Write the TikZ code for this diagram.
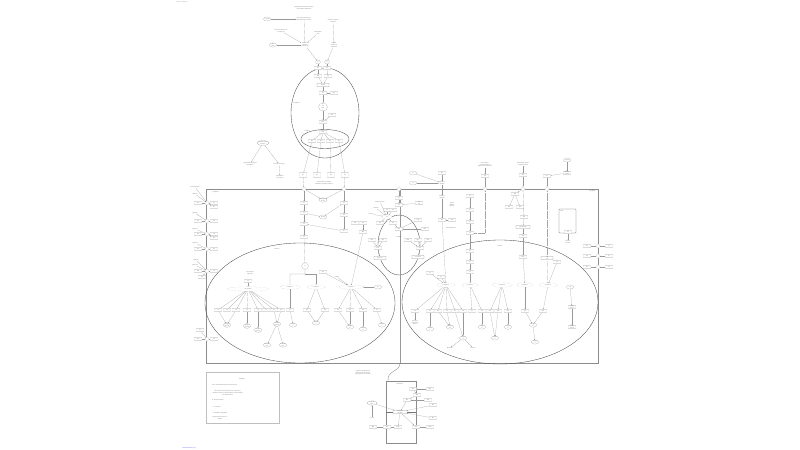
\documentclass[tikz,border=0pt]{standalone}
\usepackage{fontspec}
\setmainfont{Liberation Sans}
\usetikzlibrary{shapes.geometric,arrows.meta,positioning,calc}
\tikzset{
  gene/.style={draw=black!40, line width=0.2pt, rounded corners=0.5pt, minimum width=0.36cm, minimum height=0.18cm, fill=white},
  cpd/.style={draw=black!40, line width=0.2pt, ellipse, minimum width=0.36cm, minimum height=0.2cm, fill=white},
  hub/.style={draw=black!40, line width=0.2pt, densely dotted, ellipse, minimum width=1cm, minimum height=0.22cm, fill=white},
  txt/.style={text=black!60},
  port/.style={draw=black!45, line width=0.2pt, diamond, minimum size=0.24cm, fill=white},
  conn/.style={draw=black!40, line width=0.2pt, -{Stealth[length=1.1pt,width=0.9pt]}},
  line/.style={draw=black!40, line width=0.2pt},
  dline/.style={draw=black!35, line width=0.3pt, dash pattern=on 0.8pt off 0.8pt},
  organelle/.style={draw=black!70, line width=0.5pt},
  compart/.style={draw=black!45, line width=1.4pt},
}
\begin{document}
\begin{tikzpicture}[x=0.05cm,y=-0.05cm,font=\fontsize{1.9}{2.2}\selectfont,
  every node/.append style={inner sep=0.4pt, align=center, text=black!60}]
\useasboundingbox (0,0) rectangle (800,450);
\fill[white] (0,0) rectangle (800,450);

% compartments
\draw[compart] (206,189) rectangle (598,363);
\draw[organelle] (325,113) ellipse [x radius=34, y radius=45];
\draw[organelle] (325,139) ellipse [x radius=24, y radius=9.5];
\draw[organelle] (300,303) ellipse [x radius=95, y radius=60];
\draw[organelle] (500,302) ellipse [x radius=98, y radius=62];
\draw[organelle] (399,245) ellipse [x radius=21, y radius=30];
\draw[draw=black!40, line width=0.9pt] (400,189) -- (400,363);
\draw[compart] (386,381) rectangle (416,443);
\draw[draw=black!25, line width=0.4pt] (206,372) rectangle (279,423);
\draw[draw=black!45, line width=0.5pt] (400,363) .. controls (400,372) and (387,370) .. (388,381);

\node[txt, anchor=west, text=black!45] (fig) at (176,2) {Figure 1: Pathway};
\node[txt, anchor=west, text=blue!70] (link) at (182,448) {www.wikipathways.org};
\node[txt, anchor=west] (lab_cyto) at (293,103) {Cytoplasm};
\node[txt, anchor=west] (lab_cx) at (304,131) {Complex};
\node[txt, anchor=west] (lab_cyt) at (212,192) {Cytoplasm};
\node[txt, anchor=east] (lab_cyt2) at (596,191) {Cytoplasm};
\node[txt] (lab_nuc1) at (277,249) {Nucleus};
\node[txt] (lab_nuc2) at (500,246) {Nucleus};

% top cluster
\node[txt] (t_head) at (304,8) {Signal ligand binding to receptor\\ at the plasma membrane};
\node[cpd] (t_lig) at (267,19) {Ligand};
\node[txt] (t_rec) at (304,19) {Receptor activation by\\ ligand binding at surface};
\node[txt] (t_cof) at (333,21) {Cofactor complex\\ formation};
\node[txt] (t_kin) at (281,31) {Kinase recruitment at\\ receptor (P)};
\node[txt] (t_dim) at (318,33) {Dimerization\\ step};
\node[cpd] (t_atp) at (273,45) {ATP\\ ADP};
\node[txt] (t_cpx) at (305,45) {Activated\\ receptor\\ complex (P)};
\node[txt] (t_adp) at (334,45) {Adaptor\\ complex at\\ membrane};
\path[conn] (t_lig) edge (t_rec)
            (t_rec) edge (t_cpx)
            (t_kin) edge (t_cpx)
            (t_dim) edge (t_cpx)
            (t_cof) edge (t_adp);
\draw[line] (t_atp) -- (t_cpx);

% upper ellipse
\node[cpd, minimum width=0.24cm] (c_1) at (318,62) {A};
\node[cpd, minimum width=0.24cm] (c_2) at (327,62) {B};
\node[gene] (c_3) at (318,68) {P1};
\node[gene] (c_4) at (327,68) {P2};
\node[gene] (c_5) at (318,76) {P3};
\node[gene] (c_6) at (328,76) {P4};
\node[gene, minimum width=0.6cm] (c_7) at (323,85) {P5 P6};
\node[gene] (c_8) at (323,93) {P7};
\node[gene] (c_9) at (334,93) {P8};
\node[cpd, minimum width=0.45cm, minimum height=0.4cm] (c_10) at (323,107) {P9\\ P10};
\node[gene] (c_11) at (332,115) {P11};
\node[gene] (c_12) at (323,122) {P12};
\node[gene] (c_13) at (323,132) {P13};
\path[conn] (t_cpx) edge (c_1) (t_adp) edge (c_2)
            (c_1) edge (c_3) (c_2) edge (c_4)
            (c_3) edge (c_5) (c_4) edge (c_6)
            (c_5) edge (c_7) (c_6) edge (c_7)
            (c_7) edge (c_8) (c_9) edge (c_8)
            (c_8) edge (c_10) (c_10) edge (c_12)
            (c_11) edge (c_12) (c_12) edge (c_13);
\foreach \x/\n/\bx in {312/1/303,321/2/317,330/3/331,339/4/345} {
  \node[gene] (i_\n) at (\x,141) {Q\n};
  \node[gene, minimum height=0.25cm] (b_\n) at (\bx,175) {R\n};
  \draw[conn] (c_13) -- (i_\n);
  \draw[conn] (i_\n) -- (b_\n);
}
\node[txt] (t_mem) at (324,183) {Translocation to plasma\\ membrane signaling complex};
\node[port] (p_1) at (304,189) {};
\node[port] (p_2) at (344,189) {};
\path[conn] (b_1) edge (p_1) (b_4) edge (p_2);

% left cluster
\node[cpd, minimum width=0.5cm] (l_1) at (263,143) {Growth factor\\ receptor};
\node[txt] (l_2) at (250,164) {Ligand-bound receptor\\ internalized};
\node[txt] (l_3) at (279,164) {Receptor recycling};
\node[txt] (l_4) at (280,177) {Degradation\\ in lysosome};
\path[conn] (l_1) edge (l_2) (l_1) edge (l_3) (l_3) edge (l_4);

% cytoplasm left column
\node[gene] (m_1) at (304,203) {S1};
\node[gene] (m_2) at (304,213) {S2};
\node[gene] (m_3) at (304,224) {S3};
\node[gene] (m_4) at (304,237) {S4};
\node[gene] (m_5) at (344,203) {S5};
\node[gene] (m_6) at (344,215) {S6};
\node[gene] (m_7) at (344,231) {S7};
\node[cpd] (m_8) at (323,200) {Complex\\ S1:S5};
\node[cpd] (m_9) at (323,217) {S2:S6};
\node[gene] (m_10) at (355,223) {S8};
\node[gene] (m_11) at (363,223) {S9};
\node[gene] (m_12) at (363,232) {S10};
\path[conn] (p_1) edge (m_1) (m_1) edge (m_2) (m_2) edge (m_3) (m_3) edge (m_4)
            (p_2) edge (m_5) (m_5) edge (m_6) (m_6) edge (m_7)
            (p_1) edge (m_8) (p_2) edge (m_8)
            (m_2) edge (m_9) (m_5) edge (m_9)
            (m_7) edge (m_3) (m_11) edge (m_12);

% left nucleus
\node[draw=black!40, line width=0.2pt, regular polygon, regular polygon sides=6, minimum size=0.35cm, fill=white] (n_0) at (305,266) {N};
\draw[conn] (m_4) -- (n_0);
\node[txt] (n_lab) at (250,273) {Transcription\\ regulation};
\node[gene] (n_g0) at (248,281) {TF};
\node[hub, minimum width=2.1cm] (n_h0) at (248,289) {TF complex};
\draw[conn] (n_g0) -- (n_h0);
\foreach \x [count=\i] in {218,227,236,247,258,266,274,281} {
  \node[gene] (n_a\i) at (\x,310) {T\i};
  \draw[conn] (n_h0) -- (n_a\i);
}
\node[cpd] (n_b1) at (227,325) {Target\\ gene A};
\node[cpd] (n_b2) at (247,326) {Target\\ gene B};
\node[cpd] (n_b3) at (258,330) {Target\\ gene C};
\node[cpd] (n_b4) at (277,324) {Target\\ gene D};
\node[cpd] (n_b5) at (267,345) {Product\\ one};
\node[cpd] (n_b6) at (283,345) {Product\\ two};
\path[conn] (n_a1) edge (n_b1) (n_a3) edge (n_b1) (n_a4) edge (n_b2) (n_a5) edge (n_b3)
            (n_a7) edge (n_b4) (n_a8) edge (n_b4) (n_b4) edge (n_b5) (n_b4) edge (n_b6);
\node[hub, minimum width=1cm] (n_h1) at (290,287) {Complex 1};
\node[hub, minimum width=0.9cm] (n_h2) at (316,287) {Complex 2};
\node[hub, minimum width=1.2cm] (n_h3) at (351,287) {Complex 3};
\node[cpd] (n_c1) at (378,287) {C1};
\node[gene] (n_g1) at (323,272) {N1};
\node[txt] (n_t1) at (337,277) {cofactor};
\draw[line] (n_0) -- (305,274) -| (n_h1);
\draw[conn] (305,274) -| (n_h2);
\path[conn] (n_g1) edge (n_h3) (n_t1) edge (n_h3) (n_c1) edge (n_h3) (m_12) edge (n_h3);
\foreach \x [count=\i] in {290,307,325,338,350,363,377} {
  \node[gene] (n_r\i) at (\x,310) {U\i};
}
\path[conn] (n_h1) edge (n_r1) (n_h2) edge (n_r2) (n_h2) edge (n_r3)
            (n_h3) edge (n_r4) (n_h3) edge (n_r5) (n_h3) edge (n_r6) (n_h3) edge (n_r7);
\node[cpd] (n_d1) at (293,325) {Target\\ E};
\node[cpd] (n_d2) at (316,323) {Target\\ F};
\node[cpd] (n_d3) at (350,327) {Target\\ G};
\node[cpd] (n_d4) at (363,329) {Target\\ H};
\node[cpd] (n_d5) at (382,325) {Target\\ I};
\path[conn] (n_r1) edge (n_d1) (n_r2) edge (n_d2) (n_r3) edge (n_d2)
            (n_r4) edge (n_d3) (n_r5) edge (n_d3) (n_r6) edge (n_d4) (n_r7) edge (n_d5);

% middle region and small ellipse
\node[port] (k_p) at (399,189) {};
\node[gene] (k_1) at (399,198) {K1};
\node[gene] (k_2) at (399,205) {K2};
\node[gene] (k_3) at (419,203) {K3\\ K4};
\node[txt] (k_4) at (380,202) {Adaptor protein};
\node[txt] (k_5) at (376,208) {Scaffold};
\node[txt] (k_6) at (371,214) {Kinase};
\node[gene] (k_7) at (387,210) {K5};
\node[gene] (k_8) at (393,210) {K6};
\node[hub, minimum width=0.5cm] (k_9) at (387,217) {K7};
\node[gene] (k_10) at (380,223) {K8};
\node[gene] (k_11) at (393,223) {K9};
\node[gene] (k_12) at (399,229) {K10};
\node[txt] (k_13) at (399,237) {Complex};
\node[gene] (k_14) at (418,220) {K11};
\node[gene] (k_15) at (425,229) {K12};
\node[gene] (k_16) at (372,240) {K13};
\node[gene] (k_17) at (383,240) {K14};
\node[gene] (k_18) at (378,248) {K15};
\node[gene, minimum width=0.6cm] (k_19) at (380,258) {K16 K17};
\node[gene] (k_20) at (408,240) {K18};
\node[gene] (k_21) at (418,240) {K19};
\node[gene] (k_22) at (428,240) {K20};
\node[gene] (k_23) at (420,248) {K21};
\node[gene, minimum width=0.6cm] (k_24) at (418,257) {K22 K23};
\path[conn] (k_p) edge (k_1) (k_1) edge (k_2) (k_3) edge (k_2)
            (k_4) edge (k_9) (k_5) edge (k_9) (k_6) edge (k_9) (k_7) edge (k_9) (k_8) edge (k_9)
            (k_9) edge (k_10) (k_9) edge (k_11) (k_11) edge (k_12) (k_14) edge (k_12) (k_15) edge (k_12)
            (k_16) edge (k_18) (k_17) edge (k_18) (k_18) edge (k_19)
            (k_20) edge (k_23) (k_21) edge (k_23) (k_22) edge (k_23) (k_23) edge (k_24);

% right upper
\node[cpd] (r_a) at (413,173) {L1};
\node[cpd] (r_b) at (413,183) {L2};
\node[gene] (r_c) at (442,173) {R1};
\node[txt] (r_d) at (442,183) {Receptor\\ complex};
\path[conn] (r_a) edge (r_d) (r_b) edge (r_d) (r_c) edge (r_d);
\node[txt] (r_e) at (442,197) {Activated\\ receptor};
\node[txt] (r_f) at (452,205) {Signal\\ adaptor\\ binding};
\node[gene] (r_g) at (442,220) {R2};
\node[gene] (r_h) at (452,220) {R3};
\node[txt] (r_i) at (451,228) {Phosphorylation};
\path[conn] (r_d) edge (r_e) (r_e) edge (r_g) (r_h) edge (r_g);
\node[txt] (r_8) at (485,165) {Cell surface\\ receptor binds its\\ ligand in the membrane};
\node[gene] (r_9) at (485,176) {R4};
\node[port] (r_10) at (485,189) {};
\draw[conn] (r_8) -- (r_9);
\draw[line] (r_9) -- (r_10);
\foreach \y [count=\i] in {196,210,222,233,251,262,272} {
  \node[gene] (s_\i) at (470,\y) {V\i};
}
\path[conn] (s_1) edge (s_2) (s_2) edge (s_3) (s_3) edge (s_4) (s_4) edge (s_5) (s_5) edge (s_6) (s_6) edge (s_7);
\draw[dline] (r_10) |- (s_4);
\node[txt] (u_1) at (523,164) {Extracellular matrix\\ component binds};
\node[gene] (u_2) at (523,175) {W1};
\node[port] (u_3) at (523,189) {};
\node[gene] (u_4) at (515,194) {W2};
\node[gene] (u_5) at (509,207) {W3};
\node[gene] (u_6) at (520,207) {W4};
\node[gene] (u_7) at (524,217) {W5};
\node[gene, minimum width=0.7cm] (u_8) at (523,227) {W6 W7 W8};
\node[gene] (u_9) at (523,236) {W9};
\node[gene] (u_10) at (523,257) {W10};
\path[conn] (u_1) edge (u_2) (u_2) edge (u_3) (u_3) edge (u_4) (u_4) edge (u_5) (u_4) edge (u_6)
            (u_3) edge (u_7) (u_7) edge (u_8) (u_8) edge (u_9) (u_9) edge (u_10);
\node[cpd] (v_1) at (567,160) {Ligand};
\node[gene] (v_2) at (567,173) {Binding\\ protein};
\node[gene] (v_3) at (547,176) {X1};
\node[port] (v_4) at (547,189) {};
\path[conn] (v_1) edge (v_2) (v_2) edge (v_3) (v_3) edge (v_4);
\draw[draw=black!60, line width=0.5pt, rounded corners=1pt] (559,209) rectangle (576,233);
\node[txt, anchor=north west] (v_lab) at (560,210) {NUC};
\node[gene] (v_6) at (568,232) {X2};
\node[txt] (v_7) at (568,242) {Nuclear\\ receptor};
\draw[conn] (v_6) -- (v_7);

% right nucleus
\node[gene, minimum width=0.6cm] (w_c1) at (547,258) {X3\\ X4};
\node[gene] (w_c2) at (557,262) {X5};
\draw[dline] (v_4) -- (w_c1);
\node[gene] (w_g1) at (430,273) {Y1};
\node[gene] (w_g3) at (441,277) {Y2};
\node[hub, minimum width=0.9cm] (w_h1) at (446,285) {Complex 4};
\node[hub, minimum width=0.8cm] (w_h2) at (470,285) {Complex 5};
\node[hub, minimum width=1cm] (w_h3) at (502,285) {Complex 6};
\node[hub, minimum width=0.8cm] (w_h4) at (525,285) {Complex 7};
\node[hub, minimum width=0.9cm] (w_h5) at (548,285) {Complex 8};
\node[cpd] (w_c3) at (570,287) {Y3};
\node[gene] (w_c4) at (572,307) {Target\\ gene J};
\node[gene] (w_c5) at (572,327) {Target\\ gene K};
\path[conn] (w_g1) edge (w_h1) (w_g3) edge (w_h1) (r_g) edge (w_h1) (s_7) edge (w_h2)
            (u_10) edge (w_h4) (w_c1) edge (w_h5) (w_c2) edge (w_h5) (w_c3) edge (w_c4) (w_c4) edge (w_c5);
\foreach \x [count=\i] in {415,430,438,447,455,463,472,482,490,498,508,525,543} {
  \node[gene] (w_r\i) at (\x,311) {Z\i};
}
\path[conn] (w_h1) edge (w_r1) (w_h1) edge (w_r2) (w_h1) edge (w_r3) (w_h1) edge (w_r4)
            (w_h1) edge (w_r5) (w_h1) edge (w_r6) (w_h2) edge (w_r7) (w_h2) edge (w_r8)
            (w_h3) edge (w_r9) (w_h3) edge (w_r10) (w_h3) edge (w_r11) (w_h4) edge (w_r12) (w_h5) edge (w_r13);
\node[txt] (w_d1) at (415,323) {Cell cycle\\ progression\\ genes};
\node[cpd] (w_d2) at (430,329) {Target\\ L};
\node[cpd] (w_d3) at (450,327) {Target\\ M};
\node[cpd] (w_d4) at (463,338) {Target\\ N};
\node[txt] (w_d5) at (450,348) {Apoptosis};
\node[txt] (w_d6) at (473,348) {Survival};
\node[cpd] (w_d7) at (482,327) {Target\\ O};
\node[cpd] (w_d8) at (495,338) {Target\\ P};
\node[cpd] (w_d9) at (508,327) {Target\\ Q};
\node[cpd] (w_d10) at (533,325) {Target\\ R};
\node[cpd] (w_d11) at (535,342) {Target\\ S};
\path[conn] (w_r1) edge (w_d1) (w_r2) edge (w_d2) (w_r3) edge (w_d3) (w_r4) edge (w_d3)
            (w_r5) edge (w_d4) (w_r6) edge (w_d4) (w_d4) edge (w_d5) (w_d4) edge (w_d6)
            (w_r8) edge (w_d7) (w_r9) edge (w_d8) (w_r10) edge (w_d8) (w_r11) edge (w_d9)
            (w_r12) edge (w_d10) (w_r13) edge (w_d10) (w_d10) edge (w_d11);

% left border
\foreach \y/\n in {203/1,221/2,234/3,249/4,271/5,339/6} {
  \node[port] (e_p\n) at (207,\y) {};
  \node[gene] (e_a\n) at (198,\y) {E\n};
  \node[gene] (e_b\n) at (214,\y) {F\n};
  \draw[line] (e_a\n) -- (e_p\n) -- (e_b\n);
}
\node[txt] (e_t1) at (195,187) {Secreted factor};
\node[txt] (e_t2) at (195,194) {Ligand A};
\node[txt] (e_t3) at (195,213) {Ligand B};
\node[txt] (e_t4) at (195,229) {Ligand C};
\node[txt] (e_t5) at (195,243) {Ligand D};
\node[txt] (e_t6) at (196,260) {Ligand E};
\node[txt] (e_t7) at (195,265) {Hormone};
\node[gene] (e_t8) at (200,330) {F7};
\node[gene] (e_c1) at (214,207) {G1};
\node[gene] (e_c2) at (214,238) {G2};
\node[gene] (e_c3) at (202,277) {G3};
\path[conn] (e_t1) edge (e_p1) (e_t2) edge (e_p1) (e_t3) edge (e_p2) (e_t4) edge (e_p3)
            (e_t5) edge (e_p4) (e_t6) edge (e_p5) (e_t7) edge (e_p5) (e_t8) edge (e_p6)
            (e_p1) edge (e_c1) (e_p3) edge (e_c2) (e_p5) edge (e_c3);

% right border
\foreach \y/\n in {246/1,256/2,267/3} {
  \node[port] (f_p\n) at (598,\y) {};
  \node[gene] (f_a\n) at (587,\y) {H\n};
  \node[gene] (f_b\n) at (609,\y) {J\n};
  \draw[line] (f_a\n) -- (f_p\n) -- (f_b\n);
}

% bottom compartment
\node[txt] (q_txt) at (363,373) {Cytokine receptor binds\\ ligand at the cell surface\\ and signals to the nucleus};
\node[txt] (q_lab) at (400,384) {Membrane};
\node[gene] (q_1) at (413,389) {M1};
\node[gene] (q_2) at (430,389) {M2};
\node[gene] (q_3) at (417,395) {M3};
\node[gene] (q_4) at (407,400) {M4};
\node[gene] (q_5) at (428,400) {M5};
\draw[draw=black!55, line width=1.2pt] (386,412) -- (416,412);
\node[gene, minimum width=0.7cm] (q_6) at (400,412) {Receptor\\ complex};
\node[cpd, minimum width=0.5cm] (q_7) at (372,403) {Ligand\\ dimer};
\node[txt] (q_8) at (372,418) {Ligand};
\node[gene] (q_9) at (433,405) {M6};
\node[gene] (q_10) at (433,418) {M7};
\node[gene] (q_11) at (373,427) {M8};
\node[gene] (q_12) at (387,427) {M9};
\node[gene] (q_13) at (398,427) {M10};
\node[gene] (q_14) at (416,427) {M11};
\node[gene] (q_15) at (430,427) {M12};
\path[conn] (q_2) edge (q_1) (q_1) edge (q_3) (q_3) edge (q_4) (q_5) edge (q_4) (q_4) edge (q_6)
            (q_7) edge (q_6) (q_8) edge (q_7) (q_9) edge (q_6) (q_10) edge (q_6)
            (q_6) edge (q_13) (q_6) edge (q_14);
\draw[line] (q_11) -- (q_12) -- (q_13);
\draw[line] (q_14) -- (q_15);

% legend
\node[txt] (leg_t) at (242,379) {LEGEND};
\node[txt, anchor=west] (leg_1) at (212,385) {ECL: Extracellular ligand (secreted factor)};
\node[txt, anchor=west] (leg_2) at (212,393) {GN: Gene product (protein); CP: compound;\\ complexes shown as dotted ellipses, with members\\ and modifications};
\node[txt, anchor=west] (leg_3) at (212,400) {P: Phosphorylation};
\node[txt, anchor=west] (leg_4) at (212,407) {-->: Activation};
\node[txt, anchor=west] (leg_5) at (212,413) {--|: Inhibition / Regulation};
\node[txt, anchor=west] (leg_6) at (212,418) {Compartments shown as\\ outlines};
\end{tikzpicture}
\end{document}
